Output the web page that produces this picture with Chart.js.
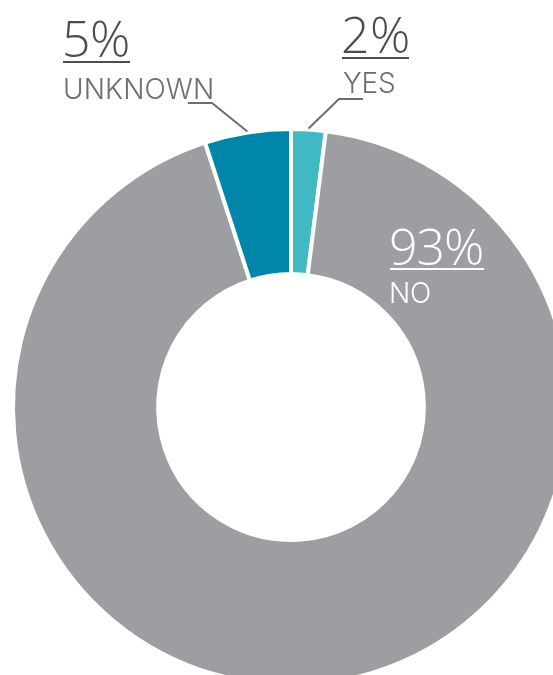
<!DOCTYPE html>
<html>
<head>
<meta charset="utf-8">
<script src="https://cdn.jsdelivr.net/npm/chart.js@4"></script>
<style>
  html, body { margin: 0; padding: 0; background: #fff; overflow: hidden; }
  #wrap { position: absolute; left: 0; top: 0; width: 600px; height: 720px; }
</style>
</head>
<body>
<div id="wrap"><canvas id="donut" width="600" height="720"></canvas></div>
<script>
const categories = ['YES', 'NO', 'UNKNOWN'];
const shares = [2, 93, 5];
const sliceColors = ['#41b9c5', '#9d9ea2', '#0086ab'];

// where each slice's text block sits (number baseline, name baseline, ink widths)
const labelLayout = {
  YES:     { x: 343, numY: 53,  nameY: 93,  numW: 65, nameW: 51,  ulY: 58,  ulX: [342, 409], color: '#4d4d4f', nameColor: '#6d6e71', leader: [363, 339, 99] },
  NO:      { x: 391, numY: 265, nameY: 303, numW: 91, nameW: 39,  ulY: 269, ulX: [390, 484], color: '#ffffff', nameColor: '#ffffff', leader: null },
  UNKNOWN: { x: 65,  numY: 57,  nameY: 99,  numW: 63, nameW: 147, ulY: 62,  ulX: [63, 130],  color: '#4d4d4f', nameColor: '#6d6e71', leader: [188, 212, 103] }
};

const NUM_FONT = '300 50px "Open Sans", sans-serif';
const NAME_FONT = '300 28px Inter, "Open Sans", sans-serif';

function fitText(ctx, text, x, y, width) {
  ctx.letterSpacing = '0px';
  const m = ctx.measureText(text);
  const ink = m.actualBoundingBoxLeft + m.actualBoundingBoxRight;
  const gap = text.length > 1 ? (width - ink) / (text.length - 1) : 0;
  ctx.letterSpacing = gap + 'px';
  ctx.fillText(text, x + m.actualBoundingBoxLeft, y);
  ctx.letterSpacing = '0px';
}

const sliceLabels = {
  id: 'sliceLabels',
  afterDraw(chart) {
    const ctx = chart.ctx;
    const arcs = chart.getDatasetMeta(0).data;
    ctx.save();
    ctx.textAlign = 'left';
    ctx.textBaseline = 'alphabetic';
    categories.forEach((name, i) => {
      const L = labelLayout[name];
      const arc = arcs[i];
      ctx.fillStyle = L.color;
      ctx.font = NUM_FONT;
      fitText(ctx, shares[i] + '%', L.x, L.numY, L.numW);
      ctx.fillRect(L.ulX[0], L.ulY - 1, L.ulX[1] - L.ulX[0], 2);
      ctx.fillStyle = L.nameColor;
      ctx.font = NAME_FONT;
      fitText(ctx, name, L.x, L.nameY, L.nameW);
      if (L.leader) {
        const mid = (arc.startAngle + arc.endAngle) / 2;
        const r = arc.outerRadius + 1;
        ctx.strokeStyle = '#6d6e71';
        ctx.lineWidth = 2;
        ctx.beginPath();
        ctx.moveTo(L.leader[0], L.leader[2]);
        ctx.lineTo(L.leader[1], L.leader[2]);
        ctx.lineTo(arc.x + Math.cos(mid) * r, arc.y + Math.sin(mid) * r);
        ctx.stroke();
      }
    });
    ctx.restore();
  }
};

new Chart(document.getElementById('donut'), {
  type: 'doughnut',
  data: {
    labels: categories,
    datasets: [{
      data: shares,
      backgroundColor: sliceColors,
      borderColor: '#ffffff',
      borderWidth: 4,
      hoverOffset: 0
    }]
  },
  options: {
    responsive: false,
    animation: false,
    events: [],
    cutout: '47.8%',
    layout: { padding: { left: 11, top: 127, right: 29, bottom: 33 } },
    plugins: {
      legend: { display: false },
      tooltip: { enabled: false }
    }
  },
  plugins: [sliceLabels]
});
</script>
</body>
</html>
